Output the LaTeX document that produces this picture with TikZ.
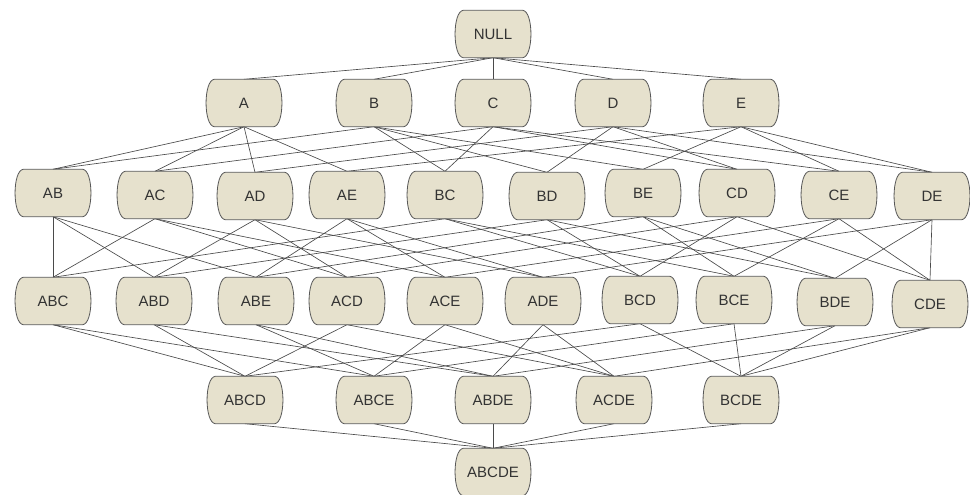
\documentclass[tikz,border=0pt]{standalone}
\usepackage{fontspec}
\setmainfont{Liberation Sans}
\usetikzlibrary{calc,backgrounds}
\definecolor{boxfill}{HTML}{E6E1CD}
\definecolor{boxline}{HTML}{585858}
\definecolor{edgecol}{HTML}{4A4A4A}
\definecolor{txtcol}{HTML}{333333}
\begin{document}
\begin{tikzpicture}[x=1pt,y=-1pt,
  lat/.style={rectangle,inner sep=0pt,minimum width=77pt,minimum height=47pt,
    text=txtcol,font=\fontsize{15}{17}\selectfont},
  link/.style={draw=edgecol,line width=0.65pt},
  boxshape/.style={draw=boxline,fill=boxfill,line width=0.8pt}]
\useasboundingbox (0,0) rectangle (970,495);
% level 0
\node[lat] (NULL) at (493,34) {NULL};
% level 1
\node[lat] (A) at (244,103) {A};
\node[lat] (B) at (374,103) {B};
\node[lat] (C) at (493,103) {C};
\node[lat] (D) at (613,103) {D};
\node[lat] (E) at (741,103) {E};
% level 2
\node[lat] (AB) at (53,193) {AB};
\node[lat] (AC) at (155,195) {AC};
\node[lat] (AD) at (255,196) {AD};
\node[lat] (AE) at (347,195) {AE};
\node[lat] (BC) at (445,195) {BC};
\node[lat] (BD) at (547,196) {BD};
\node[lat] (BE) at (643,193) {BE};
\node[lat] (CD) at (737,193) {CD};
\node[lat] (CE) at (839,195) {CE};
\node[lat] (DE) at (932,196) {DE};
% level 3
\node[lat] (ABC) at (53,301) {ABC};
\node[lat] (ABD) at (154,301) {ABD};
\node[lat] (ABE) at (256,301) {ABE};
\node[lat] (ACD) at (347,301) {ACD};
\node[lat] (ACE) at (445,301) {ACE};
\node[lat] (ADE) at (543,301) {ADE};
\node[lat] (BCD) at (640,300) {BCD};
\node[lat] (BCE) at (734,300) {BCE};
\node[lat] (BDE) at (835,302) {BDE};
\node[lat] (CDE) at (930,304) {CDE};
% level 4
\node[lat] (ABCD) at (245,400) {ABCD};
\node[lat] (ABCE) at (374,400) {ABCE};
\node[lat] (ABDE) at (493,400) {ABDE};
\node[lat] (ACDE) at (614,400) {ACDE};
\node[lat] (BCDE) at (741,400) {BCDE};
% level 5
\node[lat] (ABCDE) at (493,472) {ABCDE};
\begin{pgfonlayer}{background}
\fill[white] (0,0) rectangle (970,495);
\foreach \p/\cs in {NULL/{A,B,C,D,E},
  A/{AB,AC,AD,AE}, B/{AB,BC,BD,BE}, C/{AC,BC,CD,CE}, D/{AD,BD,CD,DE}, E/{AE,BE,CE,DE},
  AB/{ABC,ABD,ABE}, AC/{ABC,ACD,ACE}, AD/{ABD,ACD,ADE}, AE/{ABE,ACE,ADE},
  BC/{ABC,BCD,BCE}, BD/{ABD,BCD,BDE}, BE/{ABE,BCE,BDE},
  CD/{ACD,BCD,CDE}, CE/{ACE,BCE,CDE}, DE/{ADE,BDE,CDE},
  ABC/{ABCD,ABCE}, ABD/{ABCD,ABDE}, ABE/{ABCE,ABDE}, ACD/{ABCD,ACDE}, ACE/{ABCE,ACDE},
  ADE/{ABDE,ACDE}, BCD/{ABCD,BCDE}, BCE/{ABCE,BCDE}, BDE/{ABDE,BCDE}, CDE/{ACDE,BCDE},
  ABCD/{ABCDE}, ABCE/{ABCDE}, ABDE/{ABCDE}, ACDE/{ABCDE}, BCDE/{ABCDE}}
  {\foreach \c in \cs {\draw[link] (\p.south) -- (\c.north);}}
\foreach \n in {NULL,A,B,C,D,E,AB,AC,AD,AE,BC,BD,BE,CD,CE,DE,
  ABC,ABD,ABE,ACD,ACE,ADE,BCD,BCE,BDE,CDE,ABCD,ABCE,ABDE,ACDE,BCDE,ABCDE}
  {\draw[boxshape] ($(\n.north west)+(9,0)$) -- ($(\n.north east)+(-9,0)$)
     .. controls ($(\n.north east)+(2,1)$) and ($(\n.south east)+(2,-1)$) .. ($(\n.south east)+(-9,0)$)
     -- ($(\n.south west)+(9,0)$)
     .. controls ($(\n.south west)+(-2,-1)$) and ($(\n.north west)+(-2,1)$) .. cycle;}
\end{pgfonlayer}
\end{tikzpicture}
\end{document}
